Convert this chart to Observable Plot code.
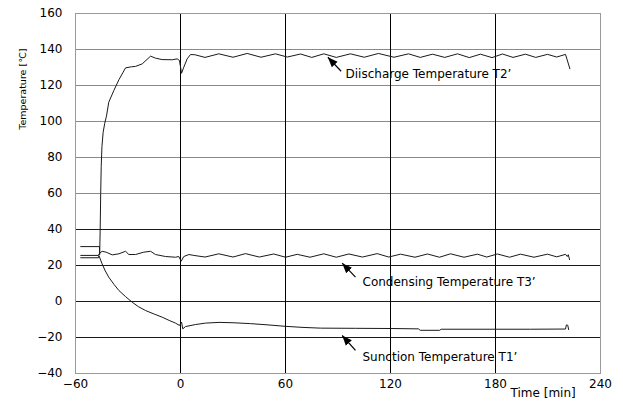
<!DOCTYPE html>
<html><head><meta charset="utf-8">
<script src="https://cdn.jsdelivr.net/npm/d3@7"></script>
<script src="https://cdn.jsdelivr.net/npm/@observablehq/plot@0.6"></script>
<style>body{margin:0;background:#fff} svg{display:block}</style>
</head><body><div id="chart"></div><script>
// Time [min] vs temperature [°C]
const dischargeT2 = [
  [-57,30.5],[-46.3,30.5],[-46.2,26],[-45.9,40],[-45.6,60],[-45.3,75],[-44.9,86],[-44.2,94],[-43.3,99],[-42.3,103],
  [-41.0,110.7],[-38.1,117.2],[-35.2,123.2],[-33,127],[-31.4,129.8],[-28,130.4],[-25.7,130.6],
  [-21.9,132.0],[-17.1,136.3],[-14.3,135.2],[-10.5,134.4],[-4.7,134.3],[-1.9,134.8],[-0.6,133.9],
  [0.6,126.8],[1.9,130.2],[3.8,134.8],[5.7,137.2],[8.2,137.1],
  [14,135.6],[21.9,137.6],[30,135.7],[38.1,137.8],[46,135.7],[54.3,137.6],[61,135.8],[68.6,137.5],
  [75,135.6],[81.9,137.6],[89,135.6],[97.1,137.6],[105,135.7],[113.1,137.8],[122,135.7],[130.3,137.6],
  [137,135.6],[144,137.4],[151,135.6],[158.3,137.6],[165,135.5],[171.4,137.4],[178,135.5],[184,137.5],
  [190,135.6],[197.1,137.4],[203,135.6],[209.7,137.3],[215,135.8],[220,137.3],[222.5,129.3]
];
const condensingT3 = [
  [-57,25.6],[-46.9,25.6],[-46.5,26.5],[-44.8,27.9],[-42.5,27.4],[-39.0,25.9],[-35.2,26.5],[-31.4,27.9],
  [-29.5,26.1],[-25.7,26.1],[-21,27.4],[-17.1,27.9],[-14.3,26.1],[-8.6,25],[-2.9,24.6],[-1,25],
  [0.4,22.4],[1.9,25],[4.8,26.1],[7.6,25.6],
  [14,24.7],[21.9,26.5],[30,24.7],[37.1,26.6],[45,24.7],[53.3,26.4],[60,24.6],[66.7,26.2],[74,24.6],
  [81.9,26.5],[89,24.6],[96.2,26.4],[104,24.7],[112.4,26.6],[119,24.7],[125.7,26.3],[134,24.6],
  [141.1,26.4],[148,24.6],[154.3,26.5],[162,24.6],[169.7,26.3],[175,24.7],[181.1,26.4],[188,24.6],
  [194.3,26.3],[202,24.6],[209.7,26.3],[215,24.8],[220,26.2],[221,25.0],[221.6,26.0],[222.3,23.3]
];
const suctionT1 = [
  [-57,24.3],[-46.9,24.3],[-46.6,25.5],[-44.8,20.9],[-43,17],[-41,13.5],[-38,9.5],[-35.2,6.1],[-31.5,2.8],[-27.6,-0.4],[-24,-2.9],[-20,-5],
  [-15,-7],[-10.5,-8.7],[-6.5,-10.5],[-2.9,-12],[-0.6,-13.3],[0.6,-11.5],[1.3,-15.2],[2.9,-13.9],[8.6,-12.8],[14.3,-12],
  [22,-11.6],[30,-11.8],[40,-12.3],[50,-13],[60,-13.8],[70,-14.4],[80,-14.8],[100,-14.9],[120,-15],
  [136,-15.2],[137,-16],[148,-16],[149,-15.4],[200,-15.4],[220,-15.3],[220.5,-13],[221.3,-13.2],[221.8,-15.6]
];
const seriesNames = ["Discharge Temperature T2'", "Condensing Temperature T3'", "Suction Temperature T1'"];
const seriesData = [dischargeT2, condensingT3, suctionT1];

const xTicks = [-60, 0, 60, 120, 180, 240];
const yTicks = [-40, -20, 0, 20, 40, 60, 80, 100, 120, 140, 160];
const vLines = [0, 60, 120, 180];

// annotations (data coordinates)
const annoLabels = ["Diischarge Temperature T2’", "Condensing Temperature T3’", "Sunction Temperature T1’"];
const annoTextX = [94.3, 104, 104];
const annoTextY = [126.1, 10.6, -31.1];
const arrowTailX = [91.8, 100, 100];
const arrowTailY = [127.9, 13.5, -27.2];
const arrowTipX = [84.2, 92.4, 92.4];
const arrowTipY = [135.7, 21.3, -18.9];

const rows = seriesData.flatMap((s, i) => s.map(([t, v]) => ({series: seriesNames[i], t, v})));
const annos = annoLabels.map((text, i) => ({text, tx: annoTextX[i], ty: annoTextY[i],
  x1: arrowTailX[i], y1: arrowTailY[i], x2: arrowTipX[i], y2: arrowTipY[i]}));

const font = "DejaVu Sans, sans-serif";
const svg = Plot.plot({
  width: 623, height: 410,
  marginLeft: 75, marginRight: 23, marginTop: 13, marginBottom: 37,
  style: {fontFamily: font, fontSize: "12px", color: "#000", background: "#fff"},
  x: {domain: [-60, 240], ticks: xTicks, tickSize: 0, tickPadding: 6, label: null},
  y: {domain: [-40, 160], ticks: yTicks, tickSize: 0, tickPadding: 13, label: null},
  marks: [
    Plot.ruleY(yTicks.filter(v => v >= 60 && v < 160), {stroke: "#8a8a8a", strokeWidth: 1}),
    Plot.ruleY(yTicks.filter(v => v < 60 && v > -40), {stroke: "#1a1a1a", strokeWidth: 1}),
    Plot.ruleX(vLines, {stroke: "#000", strokeWidth: 1}),
    Plot.frame({stroke: "#9a9a9a"}),
    Plot.line(rows, {x: "t", y: "v", z: "series", stroke: "#1a1a1a", strokeWidth: 1, curve: "linear"}),
    Plot.link(annos, {x1: "x1", y1: "y1", x2: "x2", y2: "y2", stroke: "#000", strokeWidth: 1.2}),
    Plot.text(annos, {x: "tx", y: "ty", text: "text", textAnchor: "start", fontSize: 12, fill: "#000"}),
    Plot.text(["Temperature [℃]"], {x: -60, y: 118, dx: -53, rotate: -90, fontSize: 9.5, fill: "#000"}),
    Plot.text(["Time [min]"], {x: 188.6, y: -40, dy: 20, textAnchor: "start", fontSize: 12, fill: "#000"})
  ]
});
const s = d3.select(svg);
s.append("defs").append("marker")
  .attr("id", "ahead").attr("viewBox", "0 -5 10 10").attr("refX", 10).attr("refY", 0)
  .attr("markerWidth", 10).attr("markerHeight", 10).attr("markerUnits", "userSpaceOnUse").attr("orient", "auto")
  .append("path").attr("d", "M0,-4L10,0L0,4Z").attr("fill", "#000");
s.selectAll('g[aria-label="link"] path').attr("marker-end", "url(#ahead)");
document.getElementById("chart").appendChild(svg);
</script></body></html>
